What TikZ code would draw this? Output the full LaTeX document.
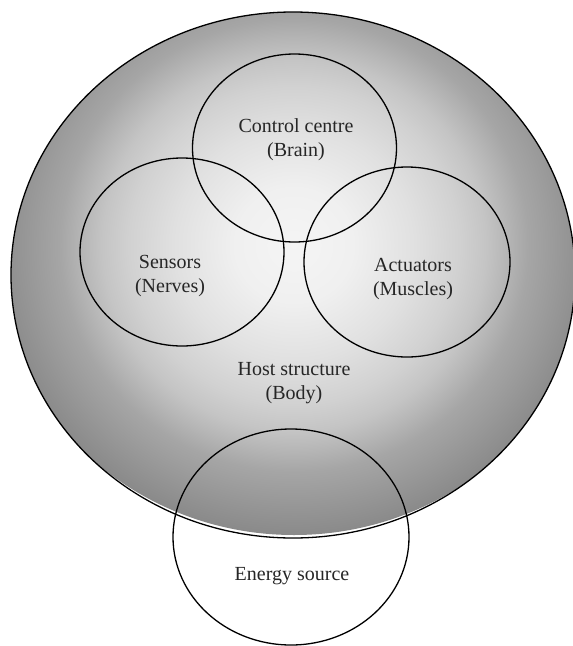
\documentclass[tikz,border=0pt]{standalone}
\usepackage{fontspec}
\setmainfont{Liberation Serif}
\usetikzlibrary{shapes.geometric}

% soft radial grey for the body, bright in the middle, darker to the rim
\pgfdeclareradialshading{hostshade}{\pgfpoint{0bp}{0bp}}{%
  color(0bp)=(black!4);
  color(5bp)=(black!6);
  color(10bp)=(black!12);
  color(13.75bp)=(black!18);
  color(16bp)=(black!23);
  color(17.5bp)=(black!28);
  color(19.5bp)=(black!35);
  color(22.5bp)=(black!41);
  color(25bp)=(black!46);
  color(50bp)=(black!46)}

\tikzset{
  ring/.style={ellipse, draw=black, line width=1.3pt, inner sep=0pt},
  caption/.style={font=\fontsize{20}{24}\selectfont, text=black!85, align=center, inner sep=0pt}
}

\begin{document}
\begin{tikzpicture}[x=1pt, y=-1pt]
\useasboundingbox (0,0) rectangle (573,646);

% body fill: gradient centred a little above the middle, cut to the outline
\begin{scope}
  \clip (293,275) ellipse [x radius=282pt, y radius=263pt];
  \shade[shading=hostshade] (294,245) ellipse [x radius=300pt, y radius=290pt];
\end{scope}

% host structure outline
\node[ring, minimum width=564pt, minimum height=526pt] (host) at (293,275) {};

% subsystems
\node[ring, minimum width=204pt, minimum height=188pt] (ctrl) at (294.5,148) {};
\node[ring, minimum width=204pt, minimum height=188pt] (sens) at (182,252) {};
\node[ring, minimum width=206pt, minimum height=190pt] (act) at (407,262) {};
\node[ring, minimum width=236pt, minimum height=216pt] (energy) at (291,537) {};

% labels
\node[caption] (ctrltext) at (296,140) {Control centre\\(Brain)};
\node[caption] (senstext) at (170,276) {Sensors\\(Nerves)};
\node[caption] (acttext) at (413,279) {Actuators\\(Muscles)};
\node[caption] (hosttext) at (294,383) {Host structure\\(Body)};
\node[caption] (energytext) at (292,576) {Energy source};
\end{tikzpicture}
\end{document}
